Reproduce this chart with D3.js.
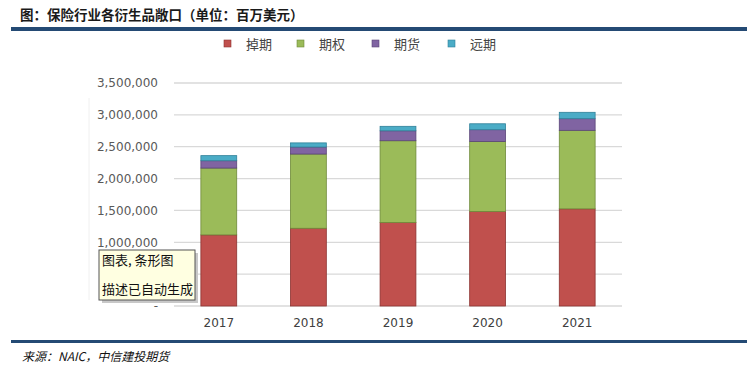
<!DOCTYPE html>
<html>
<head>
<meta charset="utf-8">
<script src="https://cdn.jsdelivr.net/npm/d3@7"></script>
<style>
  body { margin: 0; background: #fff; }
  svg { display: block; }
</style>
</head>
<body>
<div id="chart"></div>
<script>
// data (million USD)
var years = ['2017', '2018', '2019', '2020', '2021'];
var seriesNames = ['掉期', '期权', '期货', '远期'];
var swaps = [1116000, 1220000, 1310000, 1483000, 1525000];
var options = [1049000, 1165000, 1284000, 1100000, 1232000];
var futures = [115000, 110000, 156000, 184000, 183000];
var forwards = [80000, 65000, 70000, 93000, 100000];
var yTicks = [0, 500000, 1000000, 1500000, 2000000, 2500000, 3000000, 3500000];

var colors = ['#c0504d', '#9bbb59', '#8064a2', '#4bacc6'];
var strokes = ['#8c3331', '#6f8a3a', '#5a4578', '#2f8099'];

var w = 751;
var h = 369;

var svg = d3.select('#chart').append('svg').attr('width', w).attr('height', h);

// title + rules
svg.append('text')
	.attr('x', 20).attr('y', 20)
	.attr('font-family', 'Noto Sans CJK SC')
	.attr('font-size', '13.5px')
	.attr('font-weight', 'bold')
	.attr('fill', '#1a1a1a')
	.text('图：保险行业各衍生品敞口（单位：百万美元）');

svg.append('rect').attr('x', 11).attr('y', 27).attr('width', 736).attr('height', 4).attr('fill', '#244a74');
svg.append('rect').attr('x', 11).attr('y', 340).attr('width', 736).attr('height', 3).attr('fill', '#244a74');

svg.append('text')
	.attr('x', 22).attr('y', 361)
	.attr('font-family', 'Noto Sans CJK SC')
	.attr('font-size', '12px')
	.attr('font-style', 'italic')
	.attr('fill', '#111')
	.text('来源：NAIC，中信建投期货');

// legend
var legendX = [224, 297, 372, 448];
var legend = svg.selectAll('.legend')
	.data(seriesNames)
	.enter()
	.append('g')
	.attr('class', 'legend')
	.attr('transform', function(d, i) { return 'translate(' + legendX[i] + ', 44)'; });

legend.append('rect')
	.attr('x', 0).attr('y', -4)
	.attr('width', 7).attr('height', 7)
	.attr('fill', function(d, i) { return colors[i]; })
	.attr('stroke', function(d, i) { return strokes[i]; })
	.attr('stroke-width', 0.6);

legend.append('text')
	.attr('x', 22).attr('y', 5)
	.attr('font-family', 'Noto Sans CJK SC')
	.attr('font-size', '13px')
	.attr('fill', '#444')
	.text(function(d) { return d; });

// scales
var xScale = d3.scaleBand().domain(years).range([174, 622]).paddingInner(0.6).paddingOuter(0.3);
var yScale = d3.scaleLinear().domain([0, 3500000]).range([306, 83]);

// gridlines
svg.append('g')
	.selectAll('line')
	.data(yTicks)
	.enter()
	.append('line')
	.attr('x1', 174).attr('x2', 622)
	.attr('y1', function(d) { return yScale(d); })
	.attr('y2', function(d) { return yScale(d); })
	.attr('stroke', '#d9d9d9')
	.attr('stroke-width', 1.3);

// faint frame line on the left
svg.append('line')
	.attr('x1', 89).attr('x2', 89).attr('y1', 98).attr('y2', 300)
	.attr('stroke', '#f0f0f0');

// y axis (500,000 label sits under the tooltip box, so it is not drawn)
var yAxis = d3.axisLeft(yScale)
	.tickValues(yTicks.filter(function(d) { return d !== 500000; }))
	.tickSize(0)
	.tickPadding(0)
	.tickFormat(function(d) { return d === 0 ? '-   ' : d3.format(',')(d); });

var gy = svg.append('g').attr('transform', 'translate(158, 0)').call(yAxis);
gy.select('.domain').remove();
gy.selectAll('text')
	.attr('font-family', 'DejaVu Sans')
	.attr('font-size', '12px')
	.attr('fill', '#595959');

// x axis
var xAxis = d3.axisBottom(xScale).tickSize(0).tickPadding(0);
var gx = svg.append('g').attr('transform', 'translate(0, 318)').call(xAxis);
gx.select('.domain').remove();
gx.selectAll('text')
	.attr('font-family', 'DejaVu Sans')
	.attr('font-size', '12px')
	.attr('fill', '#404040');

// stacked bars
var table = years.map(function(y, i) {
	return { year: y, s0: swaps[i], s1: options[i], s2: futures[i], s3: forwards[i] };
});
var stack = d3.stack().keys(['s0', 's1', 's2', 's3']);
var layers = stack(table);

svg.selectAll('.layer')
	.data(layers)
	.enter()
	.append('g')
	.attr('class', 'layer')
	.attr('fill', function(d, i) { return colors[i]; })
	.attr('stroke', function(d, i) { return strokes[i]; })
	.attr('stroke-width', 0.8)
	.selectAll('rect')
	.data(function(d) { return d; })
	.enter()
	.append('rect')
	.attr('x', function(d) { return xScale(d.data.year); })
	.attr('y', function(d) { return yScale(d[1]); })
	.attr('width', xScale.bandwidth())
	.attr('height', function(d) { return yScale(d[0]) - yScale(d[1]); });

// tooltip box left on the screenshot
var tip = svg.append('g').attr('transform', 'translate(99, 250)');
tip.append('rect').attr('x', 3).attr('y', 3).attr('width', 96).attr('height', 50).attr('fill', '#c8c8c8');
tip.append('rect').attr('x', 0).attr('y', 0).attr('width', 96).attr('height', 50)
	.attr('fill', '#ffffe1').attr('stroke', '#555').attr('stroke-width', 1);
tip.append('text').attr('x', 3).attr('y', 15)
	.attr('font-family', 'Noto Sans CJK SC').attr('font-size', '13px').attr('fill', '#111')
	.text('图表, 条形图');
tip.append('text').attr('x', 3).attr('y', 44)
	.attr('font-family', 'Noto Sans CJK SC').attr('font-size', '13px').attr('fill', '#111')
	.text('描述已自动生成');
</script>
</body>
</html>
